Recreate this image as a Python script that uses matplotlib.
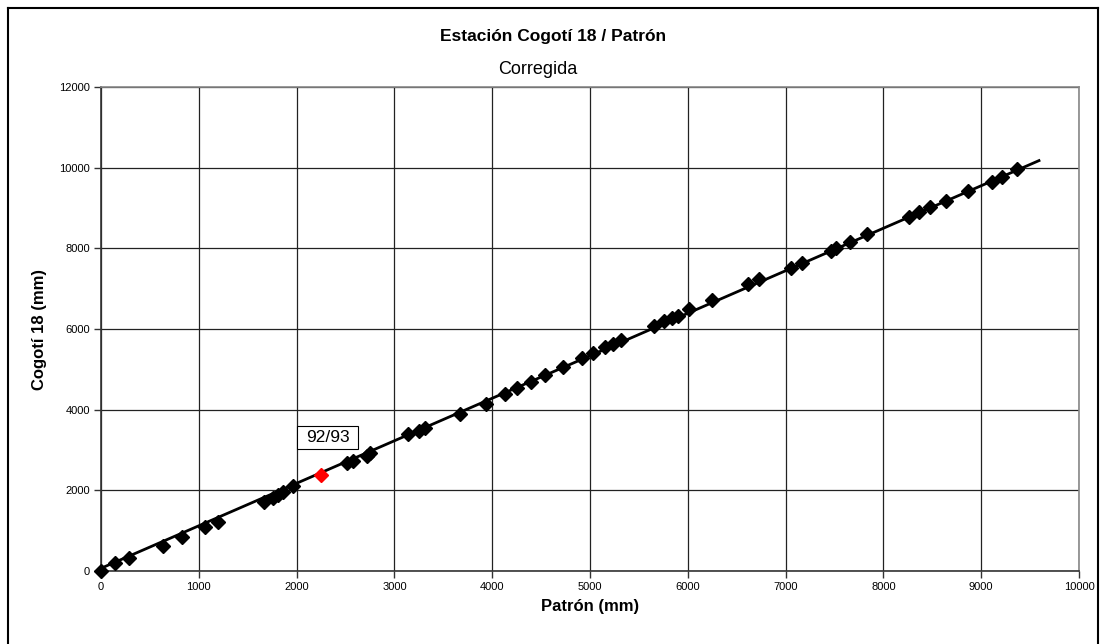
import matplotlib
matplotlib.use("Agg")
import matplotlib.pyplot as plt
from matplotlib.lines import Line2D
from matplotlib.patches import Rectangle

plt.rcParams['font.family'] = ['Liberation Sans', 'DejaVu Sans']

# Gauge readings: reference (Patrón) vs station (Cogotí 18), mm
patron = [0, 143, 290, 630, 825, 1063, 1193, 1667, 1755, 1813, 1865, 1967,
          2519, 2580, 2716, 2750, 3137, 3253, 3313, 3671, 3937, 4134, 4250,
          4397, 4540, 4721, 4915, 5034, 5153, 5239, 5314, 5654, 5760, 5835,
          5896, 6012, 6251, 6614, 6731, 7052, 7164, 7464, 7515, 7658, 7836,
          8262, 8364, 8476, 8640, 8868, 9107, 9209, 9363]
cogoti = [0, 190, 315, 628, 850, 1098, 1223, 1718, 1802, 1884, 1966, 2108,
          2686, 2728, 2860, 2918, 3389, 3480, 3538, 3885, 4141, 4389, 4545,
          4678, 4860, 5051, 5290, 5413, 5546, 5628, 5728, 6075, 6199, 6265,
          6331, 6496, 6720, 7109, 7233, 7521, 7629, 7942, 8000, 8166, 8356,
          8770, 8894, 9018, 9183, 9431, 9654, 9778, 9960]

# Highlighted season
season_label = "92/93"
season_patron = [2249]
season_cogoti = [2380]

# Linear trend line end points
trend_x = [0, 9591]
trend_y = [67, 10175]

x_ticks = list(range(0, 10001, 1000))
y_ticks = list(range(0, 12001, 2000))

fig = plt.figure(figsize=(11.02, 6.44), dpi=100)
W, H = 1102, 644
ax = fig.add_axes([101 / W, 1 - 571 / H, (1079 - 101) / W, (571 - 87) / H])

ax.set_xlim(0, 10000)
ax.set_ylim(0, 12000)
ax.set_xticks(x_ticks)
ax.set_yticks(y_ticks)
ax.grid(True, color='#222222', linewidth=0.9)
ax.set_axisbelow(True)

ax.plot(trend_x, trend_y, color='black', linewidth=2.0, zorder=3)
ax.plot(patron, cogoti, linestyle='none', marker='D', markersize=7.5,
        color='black', zorder=4, clip_on=False)
ax.plot(season_patron, season_cogoti, linestyle='none', marker='D',
        markersize=7.5, color='#ff0000', zorder=4)

# Season label in a boxed tag above the highlighted point
label_x, label_y = 2316, 3310
ax.add_patch(Rectangle((2004, 3025), 624, 570, facecolor='white',
                       edgecolor='black', linewidth=0.8, zorder=5))
ax.text(label_x, label_y, season_label, fontsize=12.5, ha='center',
        va='center', zorder=6)

for side in ('top', 'right'):
    ax.spines[side].set_color('#888888')
    ax.spines[side].set_linewidth(1.2)
for side in ('left', 'bottom'):
    ax.spines[side].set_color('#333333')
    ax.spines[side].set_linewidth(1.2)

ax.tick_params(axis='both', direction='out', length=5, width=1,
               labelsize=8, color='#333333', pad=3)

ax.set_xlabel('Patrón (mm)', fontsize=12, fontweight='bold', labelpad=5)
ax.set_ylabel('Cogotí 18 (mm)', fontsize=12, fontweight='bold', labelpad=9)

fig.text(553 / W, 1 - 37 / H, 'Estación Cogotí 18 / Patrón',
         ha='center', va='center', fontsize=12.5, fontweight='bold')
fig.text(538 / W, 1 - 70 / H, 'Corregida',
         ha='center', va='center', fontsize=13)

# Outer chart frame
x0, x1, y0, y1 = 7.5 / W, 1098 / W, 1 - 8 / H, 1 - 646 / H
for xs, ys in (([x0, x0], [y1, y0]), ([x0, x1], [y0, y0]), ([x1, x1], [y0, y1])):
    fig.add_artist(Line2D(xs, ys, transform=fig.transFigure, color='black', lw=1.5))

fig.savefig('out.png', dpi=100)
